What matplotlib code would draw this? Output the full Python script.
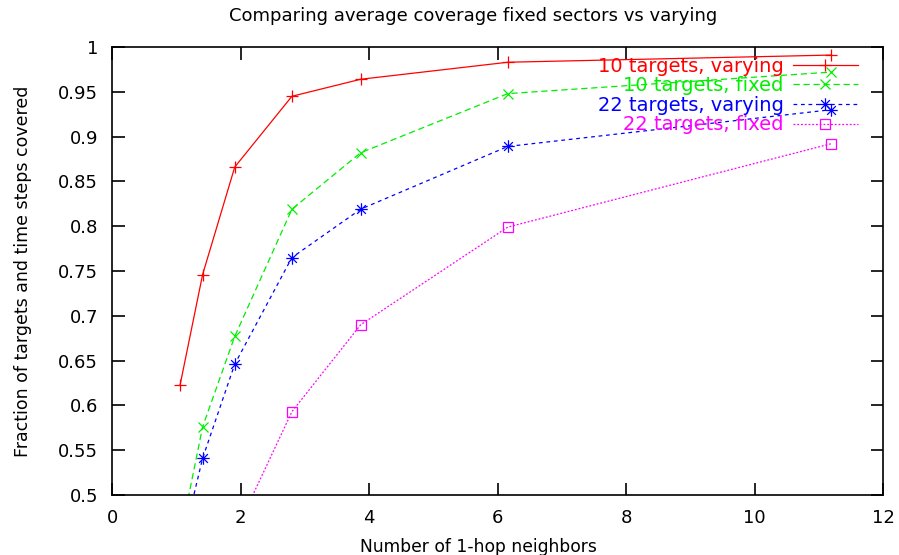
import matplotlib
matplotlib.use("Agg")
import matplotlib.pyplot as plt
from matplotlib.path import Path

plt.rcParams['font.family'] = ['DejaVu Sans']

# average number of 1-hop neighbors (x positions shared by all series)
neighbors = [1.06, 1.41, 1.91, 2.80, 3.87, 6.16, 11.19]

ten_varying = [0.623, 0.746, 0.866, 0.945, 0.964, 0.983, 0.991]
ten_fixed = [0.452, 0.576, 0.677, 0.819, 0.882, 0.948, 0.972]
tt_varying = [0.436, 0.541, 0.646, 0.765, 0.819, 0.889, 0.930]
tt_fixed = [None, None, 0.457, 0.593, 0.690, 0.799, 0.892]

labels = ["10 targets, varying", "10 targets, fixed",
          "22 targets, varying", "22 targets, fixed"]

# gnuplot style asterisk marker (plus and cross combined)
star = Path([(-1, 0), (1, 0), (0, -1), (0, 1),
             (-0.7, -0.7), (0.7, 0.7), (-0.7, 0.7), (0.7, -0.7)],
            [Path.MOVETO, Path.LINETO] * 4)

fig = plt.figure(figsize=(8.99, 5.55), dpi=100)
ax = fig.add_axes([0.1246, 0.1081, 0.8576, 0.8072])

series = [
    (ten_varying, '#ff0000', '-', '+', 8),
    (ten_fixed, '#00ee00', (0, (5, 3)), 'x', 7),
    (tt_varying, '#0000ff', (0, (3, 3)), star, 9),
    (tt_fixed, '#ff00ff', (0, (1.5, 1.5)), 's', 7),
]

handles = []
for vals, color, ls, mk, ms in series:
    xs = [x for x, v in zip(neighbors, vals) if v is not None]
    ys = [v for v in vals if v is not None]
    line, = ax.plot(xs, ys, color=color, linestyle=ls, linewidth=0.9,
                    marker=mk, markersize=ms, markerfacecolor='none',
                    markeredgecolor=color, markeredgewidth=0.9)
    handles.append(line)

ax.set_xlim(0, 12)
ax.set_ylim(0.5, 1.0)
ax.set_xticks([0, 2, 4, 6, 8, 10, 12])
ax.set_yticks([0.5, 0.55, 0.6, 0.65, 0.7, 0.75, 0.8, 0.85, 0.9, 0.95, 1.0])
ax.set_yticklabels(['0.5', '0.55', '0.6', '0.65', '0.7', '0.75', '0.8',
                    '0.85', '0.9', '0.95', '1'])
ax.tick_params(direction='in', length=9, width=1.2, top=True, right=True,
               labelsize=13, pad=10)
for sp in ax.spines.values():
    sp.set_linewidth(1.2)

ax.set_title('Comparing average coverage fixed sectors vs varying',
             fontsize=13, pad=19, x=0.4686)
ax.set_xlabel('Number of 1-hop neighbors', fontsize=12.3, labelpad=8,
              x=0.4757)
ax.set_ylabel('Fraction of targets and time steps covered', fontsize=12.5,
              labelpad=19)

leg = ax.legend(handles, labels, loc='upper right',
                bbox_to_anchor=(0.972, 0.987), frameon=False, fontsize=14,
                markerfirst=False, handlelength=3.3, handletextpad=0.5,
                labelspacing=0.03, borderpad=0.1, borderaxespad=0.1)
for txt, (vals, color, ls, mk, ms) in zip(leg.get_texts(), series):
    txt.set_color(color)

fig.savefig('out.png', dpi=100)
